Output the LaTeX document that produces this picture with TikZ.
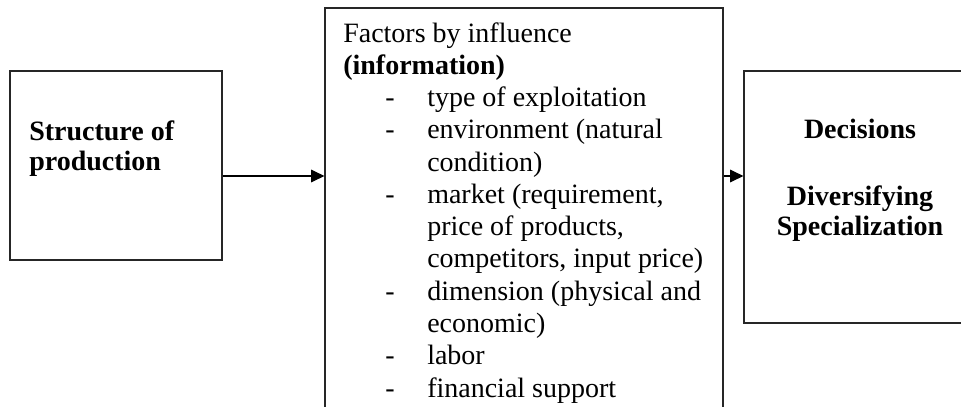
\documentclass[tikz,border=0pt]{standalone}
\usepackage{fontspec}
\setmainfont{Liberation Serif}
\usetikzlibrary{arrows.meta}
\tikzset{
         box/.style={draw=black!85, line width=0.9pt, inner sep=0pt},
         flow/.style={line width=0.9pt, -{Triangle[length=10pt,width=9.5pt]}},
         headtext/.style={font=\fontsize{21}{22.5}\selectfont\bfseries, inner sep=0pt},
         listtext/.style={font=\fontsize{21}{24.2}\selectfont, align=left, inner sep=0pt}
        }
\newcommand{\itemdash}{\hspace*{31.5pt}\makebox[31.5pt][l]{-}}
\newcommand{\itemrest}{\hspace*{63pt}}

\begin{document}
\begin{tikzpicture}[x=0.75pt,y=-0.75pt]
      \useasboundingbox (0,0) rectangle (961,407); % page
      \node[box,minimum width=159pt,minimum height=141.75pt] (structure) at (116,165.5) {}; % left box
      \node[headtext,anchor=base west,align=left] (structurelabel) at (29,170) {Structure of\\production}; % left label
      \node[box,minimum width=298.5pt,minimum height=324pt] (factors) at (524,224) {}; % middle box
      \node[listtext,anchor=base west] (factorlabel) at (343,397) {Factors by influence\\
            \textbf{(information)}\\
            \itemdash type of exploitation\\
            \itemdash environment (natural\\
            \itemrest condition)\\
            \itemdash market (requirement,\\
            \itemrest price of products,\\
            \itemrest competitors, input price)\\
            \itemdash dimension (physical and\\
            \itemrest economic)\\
            \itemdash labor\\
            \itemdash financial support}; % factor list
      \node[box,minimum width=173.25pt,minimum height=189pt] (decisions) at (859.5,197) {}; % right box
      \node[headtext,anchor=base,align=center] (decisionlabel) at (860,235) {Decisions\\[27.5pt]Diversifying\\Specialization}; % right label
      \draw[flow] (structure.east |- 0,176) -- (factors.west |- 0,176); % arrow 1
      \draw[flow] (factors.east |- 0,176) -- (decisions.west |- 0,176); % arrow 2
\end{tikzpicture}
\end{document}
